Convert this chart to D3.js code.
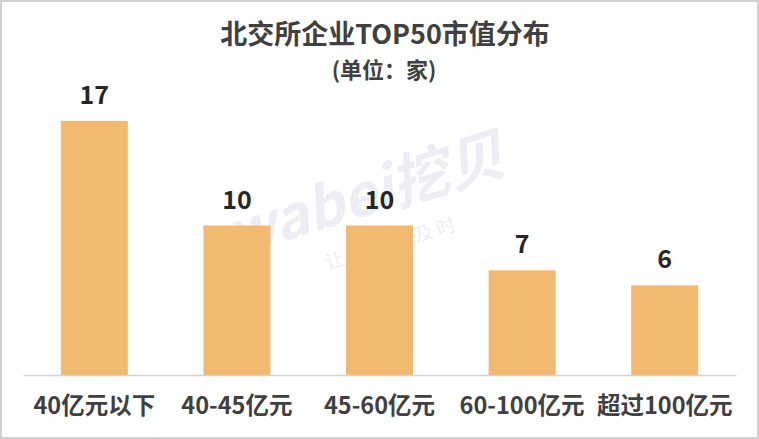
<!DOCTYPE html>
<html>
<head>
<meta charset="utf-8">
<script src="https://cdn.jsdelivr.net/npm/d3@7"></script>
<style>
  html, body { margin: 0; padding: 0; background: #fff; }
  svg { display: block; }
  text { font-family: "Microsoft YaHei", "Noto Sans CJK SC", "Noto Sans", sans-serif; }
</style>
</head>
<body>
<svg id="chart" width="759" height="439"></svg>
<script>
const categories = ["40亿元以下", "40-45亿元", "45-60亿元", "60-100亿元", "超过100亿元"];
const values = [17, 10, 10, 7, 6];
const titleText = "北交所企业TOP50市值分布";
const subtitleText = "(单位：家)";
const watermarkMain = "wabei挖贝";
const watermarkSub = "让 信 披 更 及 时";

const W = 759, H = 439;
const svg = d3.select("#chart");

svg.append("rect").attr("x", 0).attr("y", 0).attr("width", W).attr("height", H).attr("fill", "#fff");

// faint watermark in the middle of the plot
const wmPositions = [[368, 205]];
const wm = svg.append("g").attr("class", "watermarks");
wmPositions.forEach(([x, y]) => {
  const g = wm.append("g").attr("transform", `translate(${x},${y}) rotate(-17)`);
  g.append("text").attr("text-anchor", "middle").attr("y", 10)
    .attr("font-size", 58).attr("font-weight", "bold").attr("font-style", "italic")
    .attr("fill", "#EDEEF5").text(watermarkMain);
  g.append("text").attr("text-anchor", "middle").attr("y", 50).attr("x", 10)
    .attr("font-size", 19).attr("fill", "#EDEEF5").text(watermarkSub);
});

const margin = { left: 23, right: 23 };
const baseY = 375;
const x = d3.scaleBand().domain(categories).range([margin.left, W - margin.right]).paddingInner(0.53).paddingOuter(0.265);
const y = d3.scaleLinear().domain([0, 20]).range([baseY, 76]);

// bars
svg.append("g").selectAll("rect").data(values).join("rect")
  .attr("x", (d, i) => x(categories[i]))
  .attr("y", d => y(d))
  .attr("width", x.bandwidth())
  .attr("height", d => baseY - y(d))
  .attr("fill", "#F1BA70");

// axis line
const xAxis = d3.axisBottom(x).tickSize(0).tickPadding(22);
const ax = svg.append("g").attr("transform", `translate(0,${baseY})`).call(xAxis);
ax.select(".domain").attr("stroke", "#D4D4D4").attr("stroke-width", 1.5);
ax.selectAll(".tick text")
  .attr("font-size", 23.5).attr("font-weight", "bold").attr("fill", "#404040")
  .attr("font-family", "\"Microsoft YaHei\", \"Noto Sans CJK SC\", sans-serif");

// value labels
svg.append("g").selectAll("text").data(values).join("text")
  .attr("x", (d, i) => x(categories[i]) + x.bandwidth() / 2)
  .attr("y", d => y(d) - 17)
  .attr("text-anchor", "middle")
  .attr("font-size", 25).attr("font-weight", "bold").attr("fill", "#262626")
  .text(d => d);

// title
svg.append("text").attr("x", 385).attr("y", 43.5).attr("text-anchor", "middle")
  .attr("font-size", 27).attr("font-weight", "bold").attr("fill", "#404040").text(titleText);
svg.append("text").attr("x", 384).attr("y", 78).attr("text-anchor", "middle")
  .attr("font-size", 22).attr("font-weight", "bold").attr("fill", "#404040").text(subtitleText);

// border
svg.append("rect").attr("x", 1).attr("y", 1).attr("width", W - 2).attr("height", H - 2)
  .attr("fill", "none").attr("stroke", "#D0D0D0").attr("stroke-width", 2);
</script>
</body>
</html>
